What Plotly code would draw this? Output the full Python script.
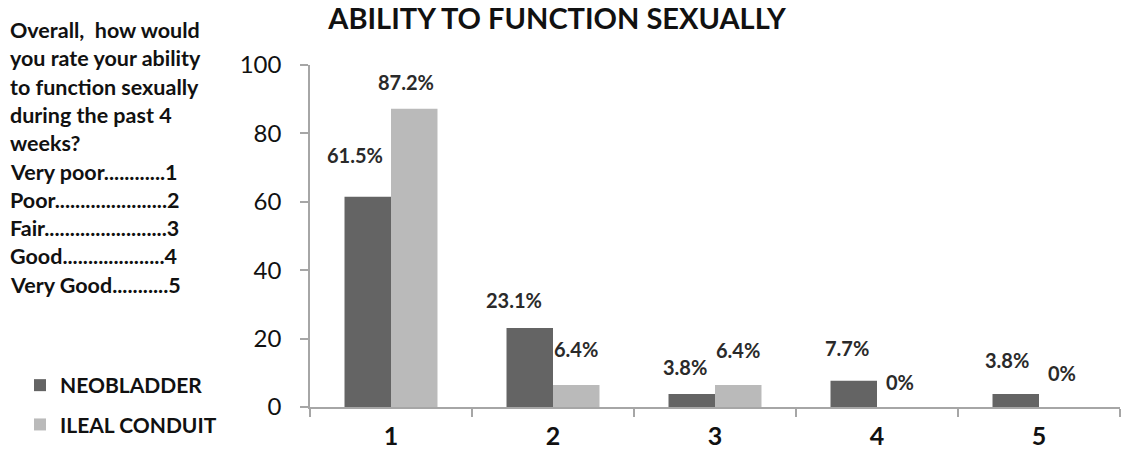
import plotly.graph_objects as go

# Response categories (1 = very poor ... 5 = very good)
categories = ["1", "2", "3", "4", "5"]
neobladder = [61.5, 23.1, 3.8, 7.7, 3.8]
ileal_conduit = [87.2, 6.4, 6.4, 0, 0]
y_ticks = [0, 20, 40, 60, 80, 100]

question_lines = [
    "Overall,  how would",
    "you rate your ability",
    "to function sexually",
    "during the past 4",
    "weeks?",
    "Very poor............1",
    "Poor......................2",
    "Fair........................3",
    "Good....................4",
    "Very Good...........5",
]

DARK = "#646464"
LIGHT = "#bababa"
FONT = "Lato"

W, H = 1122, 456
L, R, T, B = 310, 2, 65, 49
pw, ph = W - L - R, H - T - B

fig = go.Figure()
fig.add_trace(go.Bar(x=categories, y=neobladder, name="NEOBLADDER",
                     marker=dict(color=DARK, line=dict(width=0)), legendgroup="a"))
fig.add_trace(go.Bar(x=categories, y=ileal_conduit, name="ILEAL CONDUIT",
                     marker=dict(color=LIGHT, line=dict(width=0)), legendgroup="b"))

# value labels, nudged (px) away from the bar tops
neo_shift = [(-13, 42), (-16, 28), (-7, 27), (-7, 33), (-9, 34)]
ile_shift = [(-8, 27), (0, 36), (0, 35), (0, 25), (0, 34)]
for i in range(len(categories)):
    for vals, shifts, side in ((neobladder, neo_shift, -1), (ileal_conduit, ile_shift, 1)):
        v = vals[i]
        dx, dy = shifts[i]
        fig.add_annotation(
            x=i, y=v, xref="x", yref="y",
            text=f"{v:g}%", showarrow=False,
            xshift=side * 23 + dx, yshift=dy,
            font=dict(family=FONT, size=20, color="#2a2a2a", weight="bold"),
        )

# question text block on the left (pixel positions -> paper coords)
for k, line in enumerate(question_lines):
    px, py = 8, 30 + k * 28.3
    fig.add_annotation(
        x=(px - L) / pw, y=1 - (py - T) / ph, xref="paper", yref="paper", text=line,
        showarrow=False, xanchor="left", yanchor="middle",
        font=dict(family=FONT, size=21.5, color="#111111", weight="bold"),
    )

fig.update_layout(
    width=W, height=H,
    margin=dict(l=L, r=R, t=T, b=B),
    paper_bgcolor="white", plot_bgcolor="white",
    barmode="group", bargap=0.426, bargroupgap=0,
    font=dict(family=FONT, color="#111111"),
    title=dict(text="<b>ABILITY TO FUNCTION SEXUALLY</b>",
               x=557 / W, xanchor="center", xref="container",
               y=1 - 19 / H, yanchor="middle", yref="container",
               font=dict(family=FONT, size=29, color="#111111")),
    showlegend=True,
    legend=dict(x=(20 - L) / pw, xanchor="left", y=(H - 377 - B + 12) / ph,
                yanchor="top", bgcolor="rgba(0,0,0,0)", tracegroupgap=9,
                font=dict(family=FONT, size=21, color="#111111", weight="bold")),
    xaxis=dict(type="category", range=[-0.5, 4.5], showline=True,
               linecolor="#a6a6a6", linewidth=2,
               ticks="outside", tickson="boundaries", ticklen=8, tickcolor="#a6a6a6",
               tickwidth=1.5, ticklabelstandoff=6,
               tickfont=dict(family=FONT, size=25, color="#111111", weight="bold"),
               showgrid=False, zeroline=False),
    yaxis=dict(range=[0, 100], tickvals=y_ticks, showline=True, linecolor="#a6a6a6",
               linewidth=1.5, ticks="outside", ticklen=8, tickcolor="#a6a6a6",
               tickwidth=1.5, ticklabelstandoff=14,
               tickfont=dict(family=FONT, size=24, color="#111111"),
               showgrid=False, zeroline=False),
)

fig.write_html("out.html")
